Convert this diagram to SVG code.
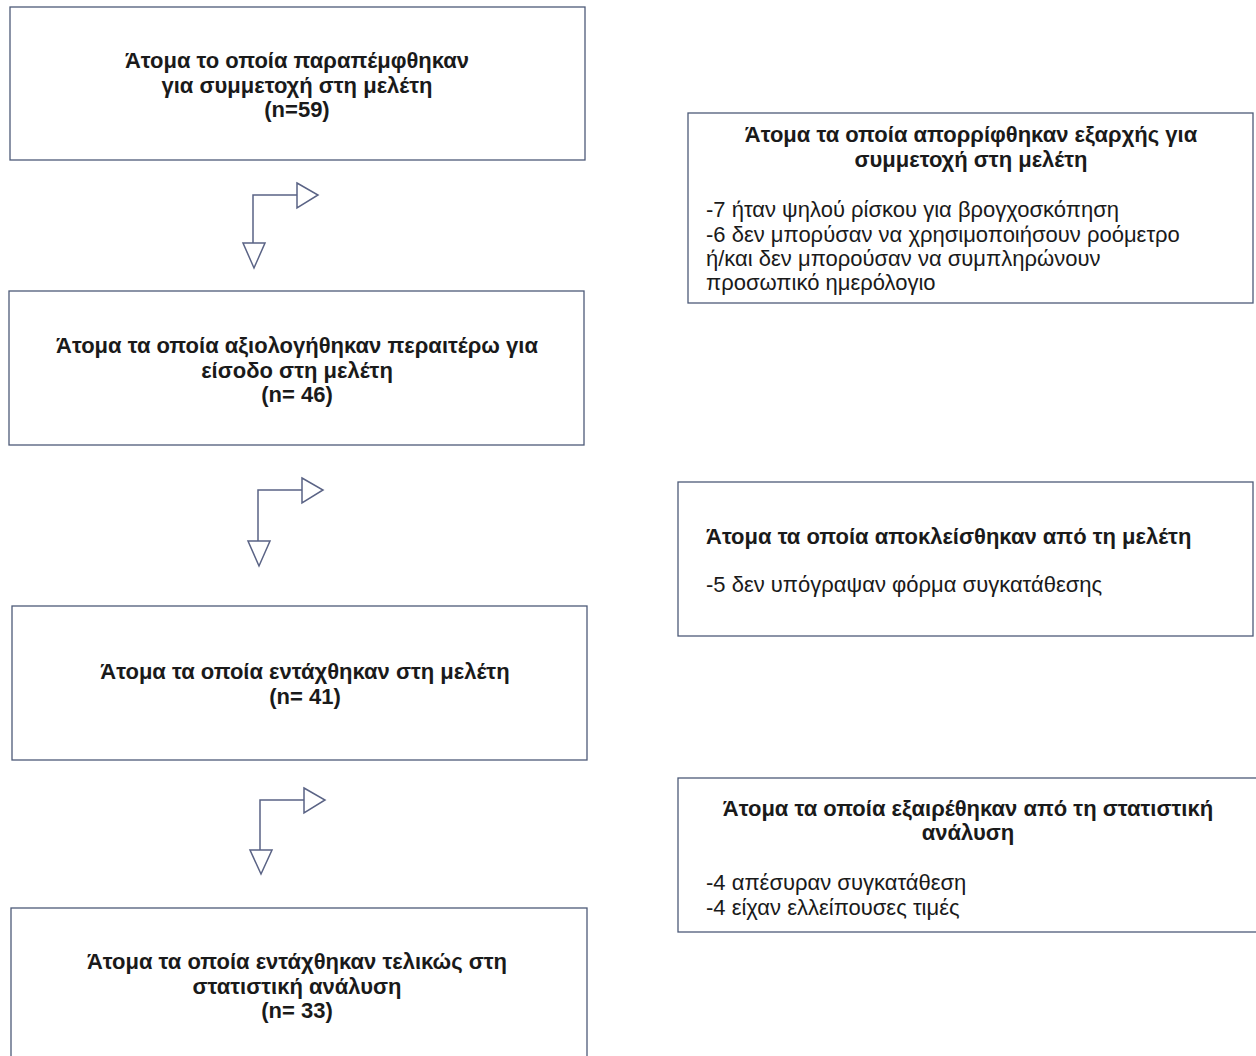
<svg xmlns="http://www.w3.org/2000/svg" width="1256" height="1056" viewBox="0 0 1256 1056">
<style>
.box{fill:#ffffff;stroke:#4d5a78;stroke-width:1.3}
.t{font-family:"Liberation Sans",Arial,sans-serif;font-size:22px;fill:#1a1a1a}
.b{font-weight:bold;text-anchor:middle}
.bl{font-weight:bold}
.c{fill:none;stroke:#5a6385;stroke-width:1.5}
.h{fill:#ffffff;stroke:#5a6385;stroke-width:1.5}
</style>
<rect width="1256" height="1056" fill="#ffffff"/>
<g id="n1">
<rect class="box" x="10" y="7" width="575" height="153"/>
<text class="t b" x="297" y="68">Άτομα το οποία παραπέμφθηκαν</text>
<text class="t b" x="297" y="93">για συμμετοχή στη μελέτη</text>
<text class="t b" x="297" y="117">(n=59)</text>
</g>
<g id="n2">
<rect class="box" x="9" y="291" width="575" height="154"/>
<text class="t b" x="297" y="353">Άτομα τα οποία αξιολογήθηκαν περαιτέρω για</text>
<text class="t b" x="297" y="378">είσοδο στη μελέτη</text>
<text class="t b" x="297" y="402">(n= 46)</text>
</g>
<g id="n3">
<rect class="box" x="12" y="606" width="575" height="154"/>
<text class="t b" x="305" y="679">Άτομα τα οποία εντάχθηκαν στη μελέτη</text>
<text class="t b" x="305" y="704">(n= 41)</text>
</g>
<g id="n4">
<rect class="box" x="11" y="908" width="576" height="160"/>
<text class="t b" x="297" y="969">Άτομα τα οποία εντάχθηκαν τελικώς στη</text>
<text class="t b" x="297" y="994">στατιστική ανάλυση</text>
<text class="t b" x="297" y="1018">(n= 33)</text>
</g>
<g id="r1">
<rect class="box" x="688" y="113" width="565" height="190"/>
<text class="t b" x="971" y="142">Άτομα τα οποία απορρίφθηκαν εξαρχής για</text>
<text class="t b" x="971" y="167">συμμετοχή στη μελέτη</text>
<text class="t" x="706" y="217">-7 ήταν ψηλού ρίσκου για βρογχοσκόπηση</text>
<text class="t" x="706" y="242">-6 δεν μπορύσαν να χρησιμοποιήσουν ροόμετρο</text>
<text class="t" x="706" y="266">ή/και δεν μπορούσαν να συμπληρώνουν</text>
<text class="t" x="706" y="290">προσωπικό ημερόλογιο</text>
</g>
<g id="r2">
<rect class="box" x="678" y="482" width="575" height="154"/>
<text class="t bl" x="706" y="544">Άτομα τα οποία αποκλείσθηκαν από τη μελέτη</text>
<text class="t" x="706" y="592">-5 δεν υπόγραψαν φόρμα συγκατάθεσης</text>
</g>
<g id="r3">
<rect class="box" x="678" y="778" width="585" height="154"/>
<text class="t b" x="968" y="816">Άτομα τα οποία εξαιρέθηκαν από τη στατιστική</text>
<text class="t b" x="968" y="840">ανάλυση</text>
<text class="t" x="706" y="890">-4 απέσυραν συγκατάθεση</text>
<text class="t" x="706" y="915">-4 είχαν ελλείπουσες τιμές</text>
</g>
<g id="connectors">
<path class="c" d="M253,243 V195 H297"/>
<polygon class="h" points="297,183 318,195 297,208"/>
<polygon class="h" points="243,243 265,243 254,268"/>
<path class="c" d="M258,541 V490 H302"/>
<polygon class="h" points="302,478 323,490 302,503"/>
<polygon class="h" points="248,541 270,541 259,566"/>
<path class="c" d="M260,850 V800 H304"/>
<polygon class="h" points="304,788 325,800 304,813"/>
<polygon class="h" points="250,850 272,850 261,874"/>
</g>
</svg>
